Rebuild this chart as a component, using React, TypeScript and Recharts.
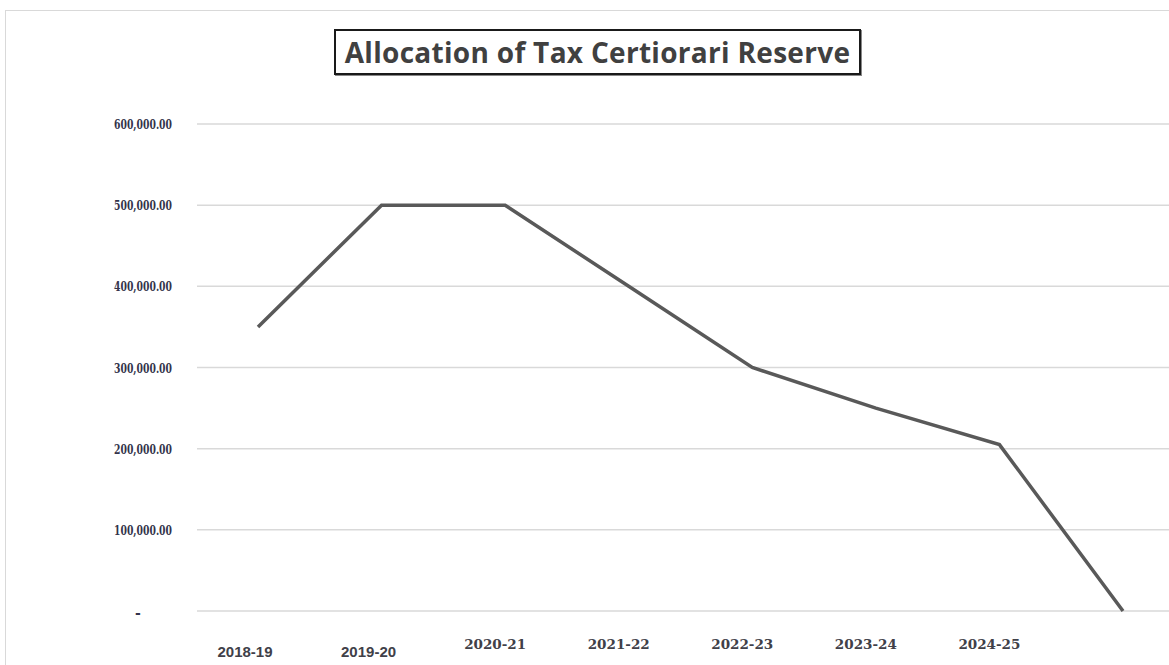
import React from "react";
import { LineChart, Line, XAxis, YAxis, CartesianGrid } from "recharts";

const years = ["2018-19", "2019-20", "2020-21", "2021-22", "2022-23", "2023-24", "2024-25", ""];
const reserve = [350000, 500000, 500000, 400000, 300000, 250000, 205000, 0];
const yTicks = [0, 100000, 200000, 300000, 400000, 500000, 600000];

const data = years.map((year, i) => ({ year, reserve: reserve[i] }));

const fmt = (v: number) =>
  v.toLocaleString("en-US", { minimumFractionDigits: 2, maximumFractionDigits: 2 });

const YTick = (props: any) => {
  const { x, y, payload } = props;
  if (payload.value === 0) {
    return (
      <text x={x - 34} y={y + 7} textAnchor="middle" fill="#33334a" fontSize={14} fontWeight="bold"
        fontFamily="'DejaVu Serif', serif">
        -
      </text>
    );
  }
  return (
    <text x={x} y={y + 5} textAnchor="end" fill="#33334a" fontSize={13} fontWeight="bold"
      fontFamily="'DejaVu Serif', serif" textLength={58} lengthAdjust="spacingAndGlyphs">
      {fmt(payload.value)}
    </text>
  );
};

// the first two labels in the original are set in a different (sans) face and sit lower
const XTick = (props: any) => {
  const { x, y, payload, index } = props;
  const sans = index < 2;
  return (
    <text
      x={x - (sans ? 13 : 10)}
      y={y + (sans ? 38 : 30)}
      textAnchor="middle"
      fill="#404048"
      fontSize={sans ? 15 : 13.5}
      fontWeight="bold"
      fontFamily={sans ? "'Liberation Sans', sans-serif" : "'DejaVu Serif', serif"}
    >
      {payload.value}
    </text>
  );
};

export default function App() {
  return (
    <div style={{ position: "absolute", left: 0, top: 0, width: 1169, height: 665, overflow: "hidden", background: "#fff" }}>
      <div style={{ position: "absolute", left: 5, top: 10, width: 1200, height: 700, border: "1px solid #d9d9d9" }} />
      <LineChart width={1169} height={665} data={data} margin={{ top: 124, right: 0, bottom: 0, left: 0 }}>
        <CartesianGrid vertical={false} stroke="#d9d9d9" strokeWidth={1.5} />
        <XAxis
          dataKey="year"
          height={54}
          axisLine={false}
          tickLine={false}
          interval={0}
          padding={{ left: 61, right: 46 }}
          tick={<XTick />}
        />
        <YAxis
          width={197}
          domain={[0, 600000]}
          ticks={yTicks}
          axisLine={false}
          tickLine={false}
          tickSize={0}
          tickMargin={25}
          tick={<YTick />}
        />
        <Line
          type="linear"
          dataKey="reserve"
          stroke="#595959"
          strokeWidth={3.5}
          dot={false}
          isAnimationActive={false}
        />
      </LineChart>
      <div
        style={{
          position: "absolute",
          left: 334,
          top: 29,
          width: 523,
          height: 42,
          border: "2px solid #1a1a1a",
          boxShadow: "1px 1px 0 #888",
          display: "flex",
          alignItems: "center",
          justifyContent: "center",
          fontFamily: "'Open Sans', sans-serif",
          fontWeight: 700,
          fontSize: 28,
          letterSpacing: 0.3,
          color: "#404040",
          background: "#fff",
        }}
      >
        Allocation of Tax Certiorari Reserve
      </div>
    </div>
  );
}
